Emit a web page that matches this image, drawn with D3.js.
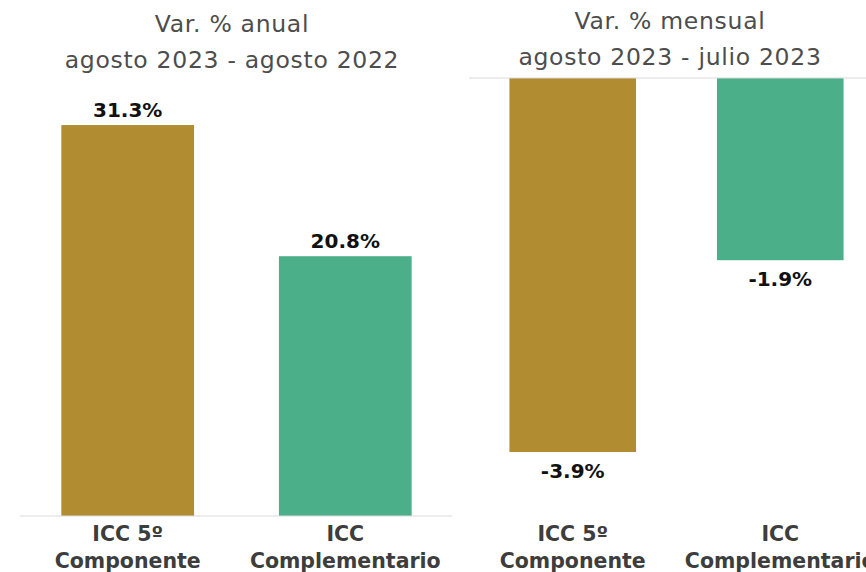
<!DOCTYPE html>
<html>
<head>
<meta charset="utf-8">
<script src="https://cdn.jsdelivr.net/npm/d3@7"></script>
<style>
  body { margin: 0; background: #fff; }
  svg { display: block; font-family: "DejaVu Sans", sans-serif; }
</style>
</head>
<body>
<div id="chart"></div>
<script>
// data
var categories = ["ICC 5º|Componente", "ICC|Complementario"]
var anualValues = [31.3, 20.8]
var mensualValues = [-3.9, -1.9]
var titlesAnual = ["Var. % anual", "agosto 2023 - agosto 2022"]
var titlesMensual = ["Var. % mensual", "agosto 2023 - julio 2023"]
var colours = ["#b18c30", "#4baf8a"]

var width = 866, height = 572

var svg = d3.select("#chart").append("svg")
  .attr("width", width)
  .attr("height", height)

function panel(opts){
  var g = svg.append("g")
  var x = d3.scaleBand()
    .domain(categories)
    .range(opts.xRange)
    .paddingInner(0.39)
    .paddingOuter(0.19)
  var y = d3.scaleLinear()
    .domain(opts.yDomain)
    .range(opts.yRange)

  // titles
  g.selectAll(".title")
    .data(opts.titles)
    .enter().append("text")
    .attr("class", "title")
    .attr("x", opts.titleX)
    .attr("y", (d, i) => opts.titleY + i * 36)
    .attr("text-anchor", "middle")
    .attr("fill", "#4d4d4d")
    .style("font-size", "23.5px")
    .style("letter-spacing", "0.7px")
    .text(d => d)

  var data = categories.map((c, i) => ({cat: c, value: opts.values[i], colour: colours[i]}))

  g.selectAll(".bar")
    .data(data)
    .enter().append("rect")
    .attr("class", "bar")
    .attr("x", d => x(d.cat))
    .attr("width", x.bandwidth())
    .attr("y", d => Math.min(y(0), y(d.value)))
    .attr("height", d => Math.abs(y(d.value) - y(0)))
    .attr("fill", d => d.colour)

  // baseline
  g.append("line")
    .attr("x1", opts.lineX[0])
    .attr("x2", opts.lineX[1])
    .attr("y1", y(0))
    .attr("y2", y(0))
    .attr("stroke", "#d9d9d9")
    .attr("stroke-width", 1.2)

  g.selectAll(".val")
    .data(data)
    .enter().append("text")
    .attr("class", "val")
    .attr("x", d => x(d.cat) + x.bandwidth() / 2)
    .attr("y", d => d.value >= 0 ? y(d.value) - 8 : y(d.value) + 26)
    .attr("text-anchor", "middle")
    .attr("fill", "#111")
    .style("font-size", "20px")
    .style("font-weight", "bold")
    .text(d => d.value.toFixed(1) + "%")

  // category labels
  var cat = g.selectAll(".cat")
    .data(data)
    .enter().append("text")
    .attr("class", "cat")
    .attr("text-anchor", "middle")
    .attr("fill", "#3d3d3d")
    .style("font-size", "20.5px")
    .style("font-weight", "bold")
  cat.selectAll("tspan")
    .data(d => d.cat.split("|").map(t => ({t: t, cx: x(d.cat) + x.bandwidth() / 2})))
    .enter().append("tspan")
    .attr("x", d => d.cx)
    .attr("y", (d, i) => 541 + i * 27)
    .text(d => d.t)
}

panel({
  xRange: [20, 453],
  yDomain: [0, 35],
  yRange: [516, 516 - 35 * 12.49],
  values: anualValues,
  titles: titlesAnual,
  titleX: 232,
  titleY: 32,
  lineX: [20, 452]
})

panel({
  xRange: [470, 883],
  yDomain: [-4, 0],
  yRange: [78 + 4 * 95.9, 78],
  values: mensualValues,
  titles: titlesMensual,
  titleX: 670,
  titleY: 29,
  lineX: [469, 866]
})
</script>
</body>
</html>
